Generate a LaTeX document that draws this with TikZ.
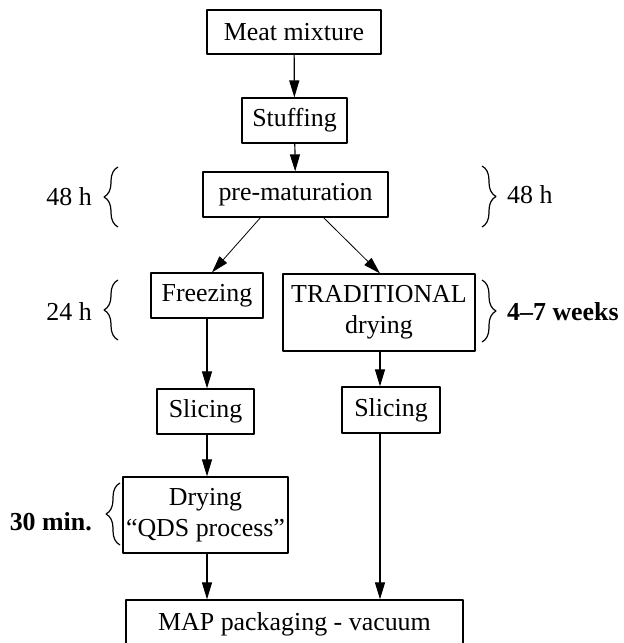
\documentclass[tikz,border=0pt]{standalone}
\usepackage{fontspec}
\setmainfont{Liberation Serif}
\usetikzlibrary{arrows.meta,decorations.pathreplacing}
\tikzset{
  stepbox/.style={draw,line width=1.2bp,inner sep=0pt,align=center,font=\fontsize{26}{31}\selectfont},
  timelabel/.style={inner sep=0pt,font=\fontsize{26}{31}\selectfont},
  timebrace/.style={decorate,decoration={brace,amplitude=14bp},line width=1.2bp},
}
\begin{document}
\begin{tikzpicture}[>={Triangle[length=17bp,width=10bp]},line join=bevel,]
\useasboundingbox (0bp,0bp) rectangle (624bp,643bp);
%%
\node (meat) at (294.0bp,611.0bp) [stepbox,minimum width=174bp,minimum height=44bp] {Meat mixture};
  \node (stuff) at (294.5bp,522.5bp) [stepbox,minimum width=105bp,minimum height=45bp] {Stuffing};
  \node (premat) at (295.5bp,448.5bp) [stepbox,minimum width=185bp,minimum height=45bp] {pre-maturation};
  \node (freez) at (207.0bp,347.5bp) [stepbox,minimum width=112bp,minimum height=45bp] {Freezing};
  \node (trad) at (379.0bp,330.5bp) [stepbox,minimum width=192bp,minimum height=77bp] {TRADITIONAL\\drying};
  \node (slice_1) at (205.5bp,231.5bp) [stepbox,minimum width=97bp,minimum height=45bp] {Slicing};
  \node (slice_2) at (391.0bp,233.0bp) [stepbox,minimum width=98bp,minimum height=46bp] {Slicing};
  \node (dry) at (205.5bp,128.0bp) [stepbox,minimum width=165bp,minimum height=76bp] {Drying\\``QDS process''};
  \node (map) at (294.5bp,19.0bp) [stepbox,minimum width=337bp,minimum height=48bp] {MAP packaging - vacuum};
%
  \draw [black,->,line width=1.2bp] (meat) -- (stuff);
  \draw [black,->,line width=1.2bp] (stuff) -- (premat);
  \draw [black,->,line width=0.8bp] ([xshift=-35bp]premat.south) -- ([xshift=5bp]freez.north);
  \draw [black,->,line width=0.8bp] ([xshift=28bp]premat.south) -- ([xshift=1bp]trad.north);
  \draw [black,->,line width=1.2bp] (freez.south) -- (freez.south |- slice_1.north);
  \draw [black,->,line width=1.2bp] (freez.south |- slice_1.south) -- (freez.south |- dry.north);
  \draw [black,->,line width=1.2bp] (freez.south |- dry.south) -- (freez.south |- map.north);
  \draw [black,->,line width=1.2bp] ([xshift=1bp]trad.south) -- ([xshift=1bp]trad.south |- slice_2.north);
  \draw [black,->,line width=1.2bp] ([xshift=1bp]trad.south |- slice_2.south) -- ([xshift=1bp]trad.south |- map.north);
%
  \draw [timebrace] (118.0bp,416.0bp) -- (118.0bp,476.0bp);
  \draw [timebrace] (482.0bp,477.0bp) -- (482.0bp,416.0bp);
  \draw [timebrace] (118.0bp,303.0bp) -- (118.0bp,363.0bp);
  \draw [timebrace] (482.0bp,363.0bp) -- (482.0bp,301.0bp);
  \draw [timebrace] (120.0bp,98.0bp) -- (120.0bp,160.0bp);
  \node (t_premat_l) at (92.0bp,446.0bp) [timelabel,anchor=east] {48 h};
  \node (t_premat_r) at (507.0bp,448.0bp) [timelabel,anchor=west] {48 h};
  \node (t_freez) at (92.0bp,331.0bp) [timelabel,anchor=east] {24 h};
  \node (t_trad) at (507.0bp,331.0bp) [timelabel,anchor=west] {\bfseries 4--7 weeks};
  \node (t_dry) at (92.0bp,121.0bp) [timelabel,anchor=east] {\bfseries 30 min.};
%
\end{tikzpicture}
\end{document}
